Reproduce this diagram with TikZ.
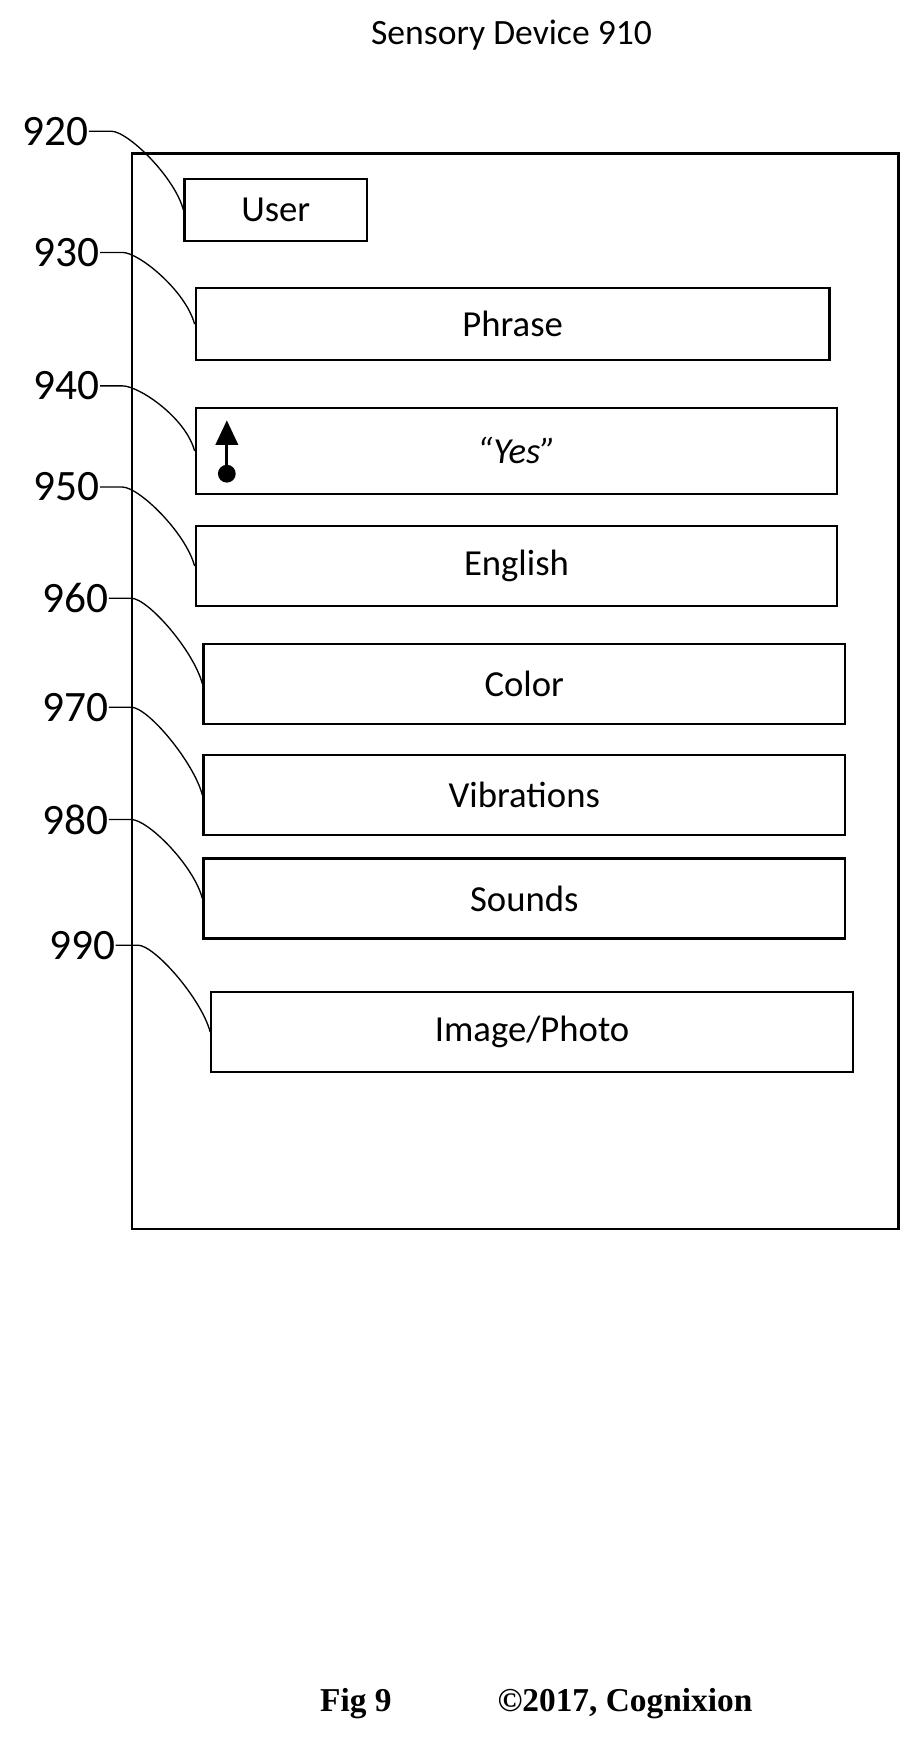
\documentclass[tikz,border=0pt]{standalone}
\usepackage{fontspec}
\setmainfont{Carlito}
\newfontfamily\footfont{Liberation Serif}
\usetikzlibrary{arrows, arrows.meta}

\begin{document}
\begin{tikzpicture}[x=1pt,y=-1pt,
    field/.style={draw,line width=2pt,anchor=north west,inner sep=0pt,font=\fontsize{33}{38}\selectfont},
    refnum/.style={font=\fontsize{39}{44}\selectfont,inner sep=0pt},
    leader/.style={line width=1.2pt}]
        \useasboundingbox[fill=white] (0,0) rectangle (830,1572);
        \node[font=\fontsize{32}{38}\selectfont] (title) at (460,32) {Sensory Device 910};
        \draw[line width=2pt] (119,138) rectangle (808,1105);
        \node[field,minimum width=164,minimum height=56] (user) at (165,160) {User};
        \node[field,minimum width=570,minimum height=65] (phrase) at (175,258) {Phrase};
        \node[field,minimum width=577,minimum height=77] (yes) at (175,366) {\itshape ``Yes''};
        \node[field,minimum width=577,minimum height=72] (english) at (175,472) {English};
        \node[field,minimum width=577,minimum height=72] (color) at (182,578) {Color};
        \node[field,minimum width=577,minimum height=72] (vib) at (182,678) {Vibrations};
        \node[field,minimum width=577,minimum height=72] (sounds) at (182,771) {Sounds};
        \node[field,minimum width=577,minimum height=72] (image) at (189,891) {Image/Photo};
        % arrow with dot in the answer field
        \fill (204,426) circle (8);
        \draw[line width=2.5pt,-{Triangle[length=22pt,width=20pt]}] (204,426) -- (204,378);
        % reference numbers
        \node[refnum,anchor=east] (n920) at (80,118) {920};
        \node[refnum,anchor=east] (n930) at (90,227) {930};
        \node[refnum,anchor=east] (n940) at (90,347) {940};
        \node[refnum,anchor=east] (n950) at (90,438) {950};
        \node[refnum,anchor=east] (n960) at (98,538) {960};
        \node[refnum,anchor=east] (n970) at (98,636) {970};
        \node[refnum,anchor=east] (n980) at (98,737) {980};
        \node[refnum,anchor=east] (n990) at (104,850) {990};
        \foreach \n/\b in {920/user,930/phrase,940/yes,950/english,960/color,970/vib,980/sounds,990/image}
            \draw[leader] (n\n.east) -- ++(20,0) .. controls +(15,0) and +(-8,-30) .. (\b.west);
        % footer
        \node[font=\footfont\bfseries\fontsize{30}{34}\selectfont] (fig) at (320,1532) {Fig 9};
        \node[font=\footfont\bfseries\fontsize{30}{34}\selectfont] (copy) at (562,1532) {\textcopyright2017, Cognixion};
\end{tikzpicture}
\end{document}
